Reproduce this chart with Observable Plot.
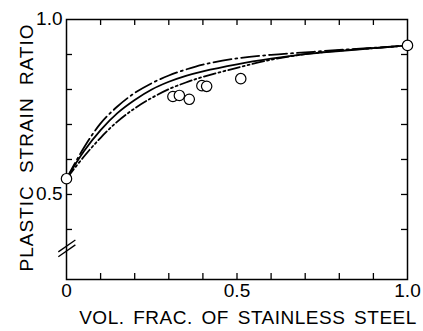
<!DOCTYPE html>
<html>
<head>
<meta charset="utf-8">
<script src="https://cdn.jsdelivr.net/npm/d3@7"></script>
<script src="https://cdn.jsdelivr.net/npm/@observablehq/plot@0.6"></script>
<style>
  html, body { margin: 0; padding: 0; background: #fff; }
  #chart { width: 423px; height: 331px; }
</style>
</head>
<body>
<div id="chart"></div>
<script>
// ---- data ----
const curveX = [0, 0.05, 0.1, 0.15, 0.2, 0.25, 0.3, 0.35, 0.4, 0.5, 0.6, 0.7, 0.8, 0.9, 1.0];
const upperDashDot = [0.545, 0.632, 0.703, 0.752, 0.790, 0.818, 0.840, 0.857, 0.871, 0.889, 0.899, 0.906, 0.913, 0.919, 0.926];
const middleSolid  = [0.545, 0.622, 0.684, 0.733, 0.770, 0.800, 0.822, 0.839, 0.852, 0.872, 0.888, 0.901, 0.910, 0.918, 0.926];
const lowerDashDot2 = [0.545, 0.607, 0.662, 0.709, 0.746, 0.776, 0.801, 0.820, 0.836, 0.862, 0.885, 0.901, 0.911, 0.918, 0.926];

const measuredX = [0, 0.312, 0.331, 0.360, 0.397, 0.411, 0.511, 1.0];
const measuredY = [0.545, 0.780, 0.783, 0.772, 0.811, 0.809, 0.831, 0.926];

const xTickLabels = [0, 0.5, 1.0];
const xMinorTicks = [0.1, 0.2, 0.3, 0.4, 0.5, 0.6, 0.7, 0.8, 0.9];
const yTickLabels = [0.5, 1.0];
const yMinorTicks = [0.4, 0.5, 0.6, 0.7, 0.8, 0.9];
const yBreak = [0.347];
const xTitle = "VOL. FRAC. OF STAINLESS STEEL";
const yTitle = "PLASTIC STRAIN RATIO";

// ---- build tables ----
const series = [
  {name: "upper", values: upperDashDot, dash: "18,4,2,4"},
  {name: "middle", values: middleSolid, dash: null},
  {name: "lower", values: lowerDashDot2, dash: "12,3,2,3,2,3"}
];
const points = measuredX.map((x, i) => ({x, y: measuredY[i]}));

const W = 423, H = 331;
const mTop = 19, mBottom = 52, mLeft = 66, mRight = 16;
const innerH = H - mTop - mBottom;
const innerW = W - mLeft - mRight;
const tickLen = 6;
const font = "'Liberation Sans', Arial, Helvetica, sans-serif";

const marks = [
  Plot.frame({stroke: "#000", strokeWidth: 1.5}),
  // inward ticks
  Plot.ruleX(xMinorTicks, {x: d => d, insetTop: innerH - tickLen, stroke: "#000", strokeWidth: 1.3}),
  Plot.ruleX(xMinorTicks, {x: d => d, insetBottom: innerH - tickLen, stroke: "#000", strokeWidth: 1.3}),
  Plot.ruleY(yMinorTicks, {y: d => d, insetRight: innerW - tickLen, stroke: "#000", strokeWidth: 1.3}),
  Plot.ruleY(yMinorTicks, {y: d => d, insetLeft: innerW - tickLen, stroke: "#000", strokeWidth: 1.3}),
  // axis break
  Plot.link(yBreak, {x1: -0.024, x2: 0.026, y1: d => d - 0.011, y2: d => d + 0.023, stroke: "#000", strokeWidth: 1.3, clip: false}),
  Plot.link(yBreak, {x1: -0.024, x2: 0.026, y1: d => d - 0.025, y2: d => d + 0.009, stroke: "#000", strokeWidth: 1.3, clip: false}),
  // tick labels
  Plot.axisX(xTickLabels, {label: null, tickSize: 0, tickPadding: 4, fontSize: 19, tickFormat: d => d === 0 ? "0" : d.toFixed(1)}),
  Plot.axisY(yTickLabels, {label: null, tickSize: 0, tickPadding: 4, fontSize: 19, dy: -1, tickFormat: d => d.toFixed(1)}),
  // titles
  Plot.text([xTitle], {frameAnchor: "bottom", text: d => d, textAnchor: "middle", dx: 11, dy: 44, lineAnchor: "bottom", fontSize: 19}),
  Plot.text([yTitle], {frameAnchor: "left", text: d => d, textAnchor: "middle", rotate: -90, dx: -34, dy: -2, lineAnchor: "bottom", fontSize: 19})
];

for (const s of series) {
  marks.push(Plot.line(curveX.map((x, i) => ({x, y: s.values[i]})), {
    x: "x", y: "y", curve: "catmull-rom", stroke: "#000", strokeWidth: 1.8,
    strokeDasharray: s.dash
  }));
}
marks.push(Plot.dot(points, {x: "x", y: "y", r: 5.2, fill: "#fff", stroke: "#000", strokeWidth: 1.2}));

const chart = Plot.plot({
  width: W, height: H,
  marginTop: mTop, marginBottom: mBottom, marginLeft: mLeft, marginRight: mRight,
  x: {domain: [0, 1], axis: null},
  y: {domain: [0.257, 1], axis: null},
  style: {fontFamily: font, color: "#000", background: "#fff", overflow: "visible"},
  marks
});
// widen the two titles like the reference lettering
d3.select(chart).selectAll("text").each(function() {
  const t = this.textContent;
  if (t === xTitle) this.style.letterSpacing = "0.5px", this.style.wordSpacing = "3px";
  if (t === yTitle) this.style.letterSpacing = "1px", this.style.wordSpacing = "6px";
});
document.getElementById("chart").appendChild(chart);
</script>
</body>
</html>
